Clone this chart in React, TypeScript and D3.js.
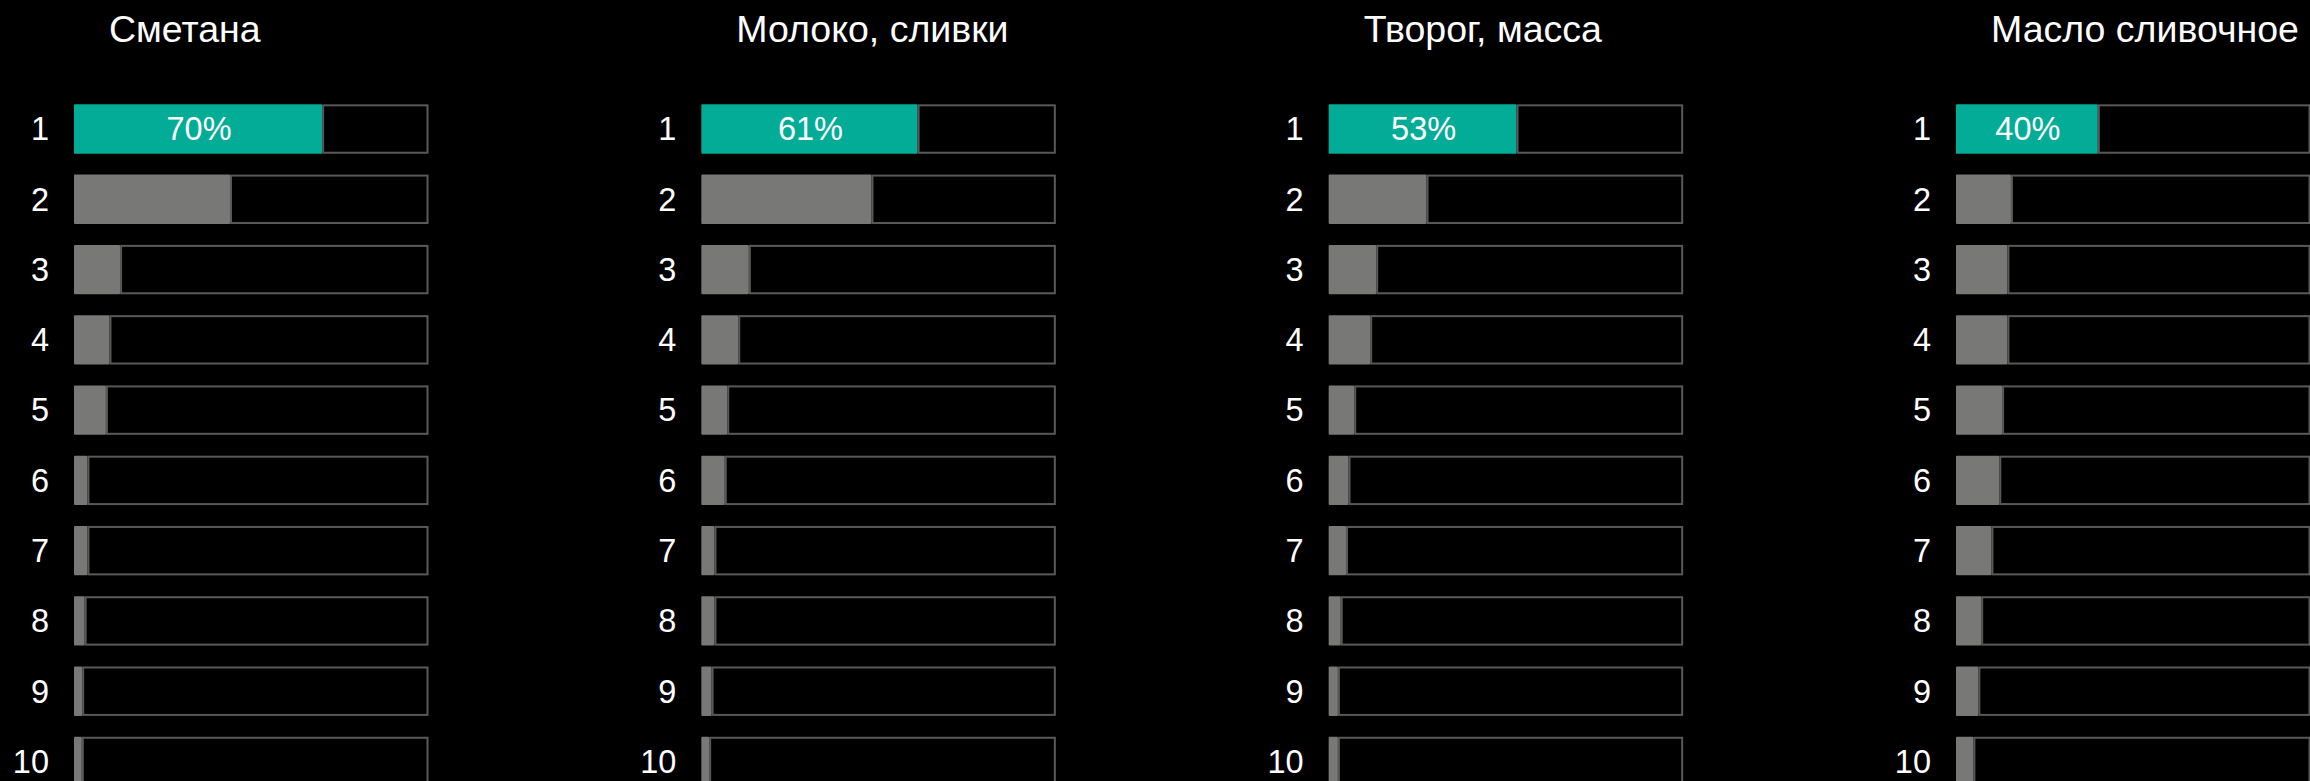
import React from "react";
import * as d3 from "d3";

// categories (panel titles) and ranks
const categories = ["Сметана", "Молоко, сливки", "Творог, масса", "Масло сливочное"];
const ranks = ["1", "2", "3", "4", "5", "6", "7", "8", "9", "10"];

// share of each rank, %
const smetana = [70, 44, 13, 10, 9, 3.8, 3.8, 3, 2.3, 2.2];
const moloko = [61, 48, 13.4, 10.4, 7.3, 6.6, 3.7, 3.7, 2.9, 2.2];
const tvorog = [53, 27.6, 13.4, 11.7, 7.2, 5.6, 4.9, 3.4, 2.6, 2.6];
const maslo = [40, 15.5, 14.5, 14.5, 13, 12.2, 10, 7.1, 6.3, 4.9];

const series = [smetana, moloko, tvorog, maslo];

const width = 2310;
const height = 781;
const font = "'Liberation Sans', Arial, sans-serif";

export default function App() {
  const panelX = d3.scalePoint().domain(categories).range([74, 1956]);
  const trackW = 354.5;
  const x = d3.scaleLinear([0, 100], [0, trackW]);
  const y = d3
    .scaleBand()
    .domain(ranks)
    .range([93.9, 796.6])
    .paddingInner(0.297)
    .paddingOuter(0.1485);
  const bh = y.bandwidth();

  return (
    <svg
      width={width}
      height={height}
      style={{ position: "absolute", left: 0, top: 0, background: "#000" }}
      fontFamily={font}
    >
      <rect width={width} height={height} fill="#000" />
      {categories.map((cat, ci) => {
        const px = panelX(cat)!;
        const vals = series[ci];
        return (
          <g key={cat} transform={`translate(${px},0)`}>
            <text x={35} y={41.5} fill="#fff" fontSize={37.5}>
              {cat}
            </text>
            {ranks.map((r, i) => {
              const v = vals[i];
              const yy = y(r)!;
              const w = x(v);
              return (
                <g key={r}>
                  <text
                    x={-25}
                    y={yy + bh / 2}
                    dy="0.35em"
                    textAnchor="end"
                    fill="#fff"
                    fontSize={32.5}
                  >
                    {r}
                  </text>
                  <rect
                    x={0}
                    y={yy}
                    width={w}
                    height={bh}
                    rx={1}
                    fill={i === 0 ? "#03ac97" : "#787876"}
                  />
                  <rect
                    x={w + 1}
                    y={yy + 1}
                    width={x(100) - w - 2}
                    height={bh - 2}
                    fill="#000"
                    stroke="#595959"
                    strokeWidth={2}
                  />
                  {i === 0 && (
                    <text
                      x={w / 2 + 1}
                      y={yy + bh / 2}
                      dy="0.35em"
                      textAnchor="middle"
                      fill="#fff"
                      fontSize={32.5}
                    >
                      {`${v}%`}
                    </text>
                  )}
                </g>
              );
            })}
          </g>
        );
      })}
    </svg>
  );
}
